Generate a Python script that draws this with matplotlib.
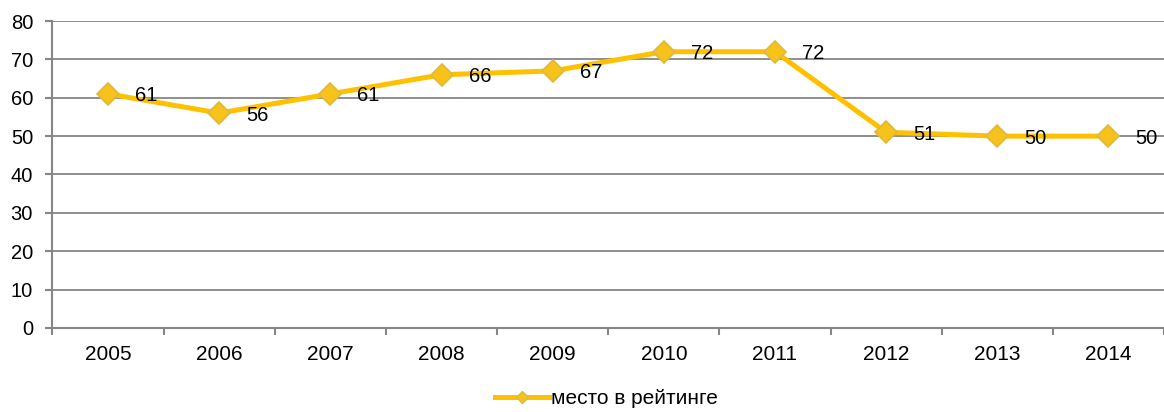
import matplotlib
matplotlib.use("Agg")
import matplotlib.pyplot as plt
from matplotlib.ticker import MultipleLocator, FixedLocator
from matplotlib.lines import Line2D

years = ["2005", "2006", "2007", "2008", "2009", "2010", "2011", "2012", "2013", "2014"]
values = [61, 56, 61, 66, 67, 72, 72, 51, 50, 50]
series_name = "место в рейтинге"

plt.rcParams['font.family'] = ['Liberation Sans', 'DejaVu Sans']

fig = plt.figure(figsize=(11.64, 4.12), dpi=100)
ax = fig.add_axes([0.0451, 0.204, 0.9549, 0.745])

x = list(range(len(years)))
line_color = '#FFC000'
ax.plot(x, values, color=line_color, lw=3.6, marker='D', markersize=11.5,
        markerfacecolor='#F7C31A', markeredgecolor='#DDB93E', markeredgewidth=1.2,
        zorder=3, clip_on=False)

for xi, v in zip(x, values):
    ax.annotate(str(v), (xi, v), xytext=(27, -2), textcoords='offset pixels',
                ha='left', va='center', fontsize=14.5, color='black', zorder=4,
                annotation_clip=False)

ax.set_xlim(-0.5, len(years) - 0.5)
ax.set_ylim(0, 80)
ax.yaxis.set_major_locator(MultipleLocator(10))
ax.set_xticks(x)
ax.set_xticklabels(years, fontsize=15)
ax.xaxis.set_minor_locator(FixedLocator([i - 0.5 for i in range(len(years) + 1)]))
ax.tick_params(axis='x', which='major', length=0, pad=12)
ax.tick_params(axis='x', which='minor', length=5, color='#868686', width=1.5)
ax.tick_params(axis='y', length=5, color='#868686', width=1.5, labelsize=14.5, pad=9)

ax.grid(axis='y', color='#868686', lw=1.3, zorder=0)
ax.set_axisbelow(True)
for s in ['top', 'right']:
    ax.spines[s].set_visible(False)
for s in ['left', 'bottom']:
    ax.spines[s].set_color('#868686')
    ax.spines[s].set_linewidth(1.5)

handle = Line2D([], [], color=line_color, lw=3.6, marker='D', markersize=6,
                markerfacecolor='#F7C31A', markeredgecolor='#DDB93E')
fig.legend([handle], [series_name], loc='center', bbox_to_anchor=(0.521, 0.033),
           frameon=False, fontsize=15, handlelength=2.6, handletextpad=0.1)

fig.savefig("out.png", dpi=100)
